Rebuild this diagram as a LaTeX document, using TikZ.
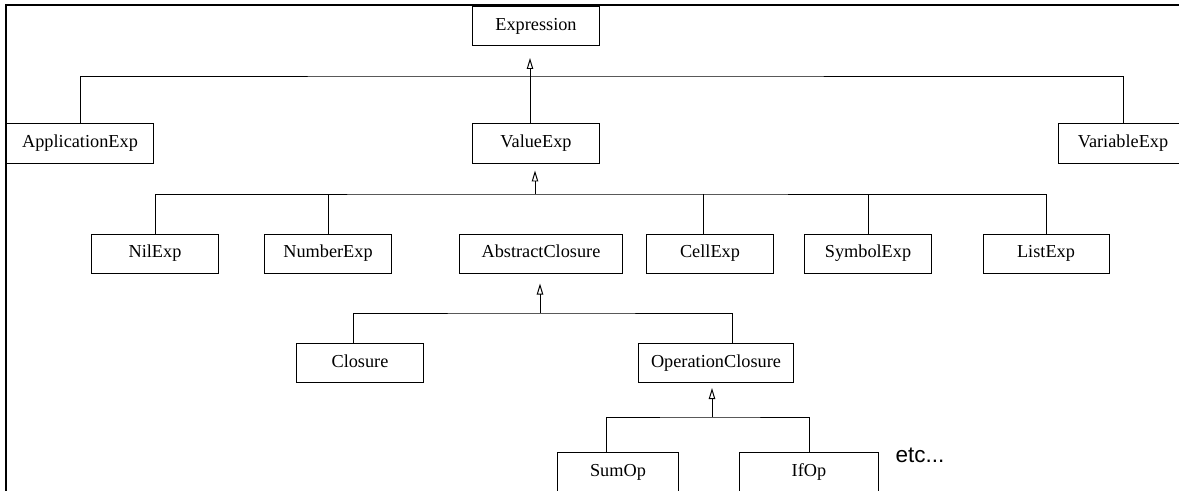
\documentclass[tikz,border=0pt]{standalone}
\usepackage{fontspec}
\setmainfont{Liberation Serif}
\newfontfamily\etcfont{Liberation Sans}
\usetikzlibrary{arrows.meta}

\tikzset{
  cls/.style={draw, fill=white, minimum height=0.975cm, inner sep=0pt, text height=9pt, text depth=3pt, font=\fontsize{13}{15}\selectfont},
  inh/.style={-{Triangle[open,length=0.275cm,width=0.16cm]}},
}

\begin{document}
\begin{tikzpicture}[x=0.025cm, y=-0.025cm, line width=0.7pt]
    \useasboundingbox (0,0) rectangle (1179,491);
    \clip (0,0) rectangle (1179,491);
    \draw[line width=1.8pt] (6,600) |- (1300,5);

    % top levels
    \node[cls, minimum width=3.175cm] (expr)   at (536,26)    {Expression};
    \node[cls, minimum width=3.65cm]  (appl)   at (80,143.5)  {ApplicationExp};
    \node[cls, minimum width=3.175cm] (valexp) at (536,143.5) {ValueExp};
    \node[cls, minimum width=3.25cm]  (varexp) at (1123,143.5) {VariableExp};

    % values
    \node[cls, minimum width=3.15cm]  (nil)  at (155,253.5)  {NilExp};
    \node[cls, minimum width=3.15cm]  (num)  at (328,253.5)  {NumberExp};
    \node[cls, minimum width=4.075cm] (abs)  at (541,253.5)  {AbstractClosure};
    \node[cls, minimum width=3.15cm]  (cell) at (710,253.5)  {CellExp};
    \node[cls, minimum width=3.15cm]  (sym)  at (868,253.5)  {SymbolExp};
    \node[cls, minimum width=3.15cm]  (list) at (1046,253.5) {ListExp};

    % closures
    \node[cls, minimum width=3.175cm] (clos) at (360,363) {Closure};
    \node[cls, minimum width=3.875cm] (opcl) at (716,363) {OperationClosure};

    \node[cls, minimum width=3.025cm] (sum)  at (618,472) {SumOp};
    \node[cls, minimum width=3.45cm]  (ifop) at (809,472) {IfOp};
    \node[anchor=base west, font=\etcfont\fontsize{16}{18}\selectfont, inner sep=0pt] (etc) at (895,463) {etc...};

    \coordinate (j1) at (530,76);
    \coordinate (j2) at (535,194);
    \coordinate (j3) at (540,313);
    \coordinate (j4) at (712,417);

    \draw (appl.north) |- (j1) -| (varexp.north);
    \draw[inh, shorten >=0.3cm] (valexp.north -| j1) -- (expr.south -| j1);

    \draw (nil.north) |- (j2) -| (list.north);
    \draw (num.north) -- (num.north |- j2);
    \draw ([xshift=-0.175cm]cell.north) -- ([xshift=-0.175cm]cell.north |- j2);
    \draw (sym.north) -- (sym.north |- j2);
    \draw[inh, shorten >=0.175cm] (j2) -- (j2 |- valexp.south);

    \draw ([xshift=-0.175cm]clos.north) |- (j3) -| ([xshift=0.4cm]opcl.north);
    \draw[inh, shorten >=0.25cm] (j3) -- (j3 |- abs.south);

    \draw ([xshift=-0.3cm]sum.north) |- (j4) -| (ifop.north);
    \draw[inh, shorten >=0.125cm] (j4) -- (j4 |- opcl.south);
\end{tikzpicture}
\end{document}
